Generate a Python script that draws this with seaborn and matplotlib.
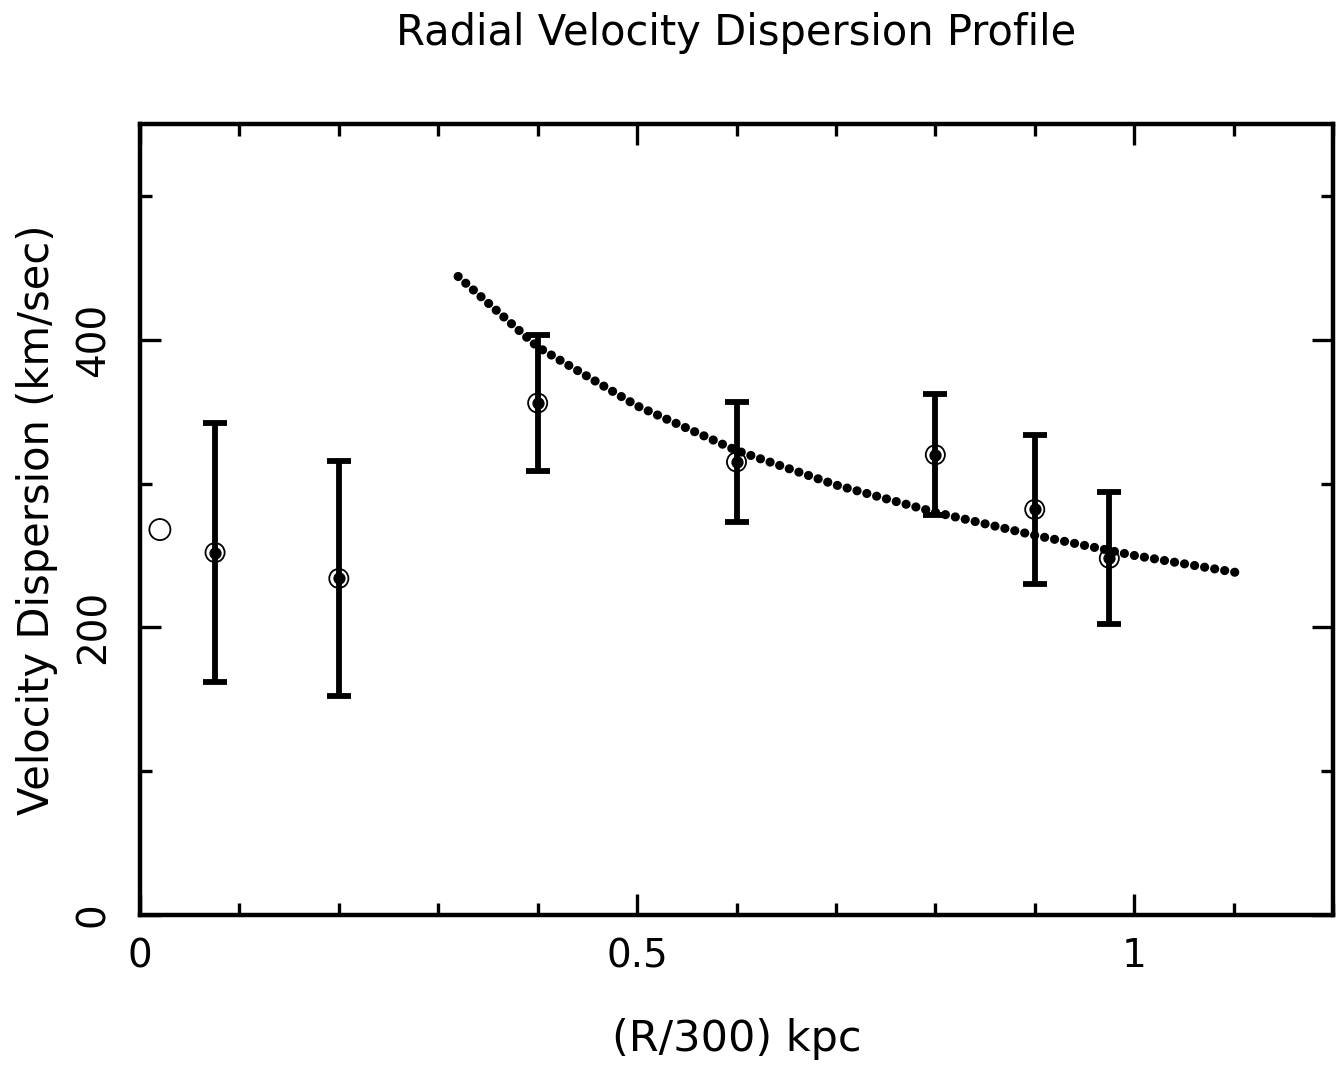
import numpy as np
import pandas as pd
import seaborn as sns
import matplotlib.pyplot as plt
from matplotlib.ticker import MultipleLocator

# measured dispersions with errors
radius = [0.0755, 0.2, 0.4, 0.6, 0.8, 0.9, 0.975]
sigma = [252, 234, 356, 315, 320, 282, 248]
sigma_err = [90, 82, 47, 42, 42, 52, 46]

# central point (no error bar)
r_center = [0.02]
sigma_center = [268]

# model curve
curve_r = [0.32, 0.4, 0.5, 0.6, 0.7, 0.8, 0.9, 1.0, 1.104]
curve_sigma = [444, 395, 354, 323, 299, 280, 264, 250, 238]

sns.set_style("ticks")
plt.rcParams["font.family"] = ["DejaVu Sans"]
plt.rcParams["text.color"] = "black"
plt.rcParams["axes.labelcolor"] = "black"

fig = plt.figure(figsize=(13.43, 10.66), dpi=100)
ax = fig.add_axes([140 / 1343, 1 - 915 / 1066, 1193 / 1343, 791 / 1066])

df = pd.DataFrame({"r": radius, "sigma": sigma, "err": sigma_err})
curve = pd.DataFrame({"r": curve_r, "sigma": curve_sigma})

# dotted model curve
sns.lineplot(data=curve, x="r", y="sigma", ax=ax, color="black", linewidth=6.6,
             linestyle=(0, (0.01, 1.1)), dash_capstyle="round", zorder=2)

# error bars
ax.errorbar(df["r"], df["sigma"], yerr=df["err"], fmt="none", ecolor="black",
            elinewidth=4.2, capsize=8.5, capthick=4.2, zorder=3)

# circles around filled dots
sns.scatterplot(data=df, x="r", y="sigma", ax=ax, s=190, facecolor="none",
                edgecolor="black", linewidth=1.3, zorder=4)
sns.scatterplot(data=df, x="r", y="sigma", ax=ax, s=78, color="black",
                edgecolor="black", linewidth=0, zorder=5)
sns.scatterplot(x=r_center, y=sigma_center, ax=ax, s=230, facecolor="none",
                edgecolor="black", linewidth=1.3, zorder=4)

ax.set_xlim(0, 1.2)
ax.set_ylim(0, 550)
ax.xaxis.set_minor_locator(MultipleLocator(0.1))
ax.yaxis.set_minor_locator(MultipleLocator(100))
ax.set_xticks([0, 0.5, 1])
ax.set_xticklabels(["0", "0.5", "1"])
ax.set_yticks([0, 200, 400])
ax.set_yticklabels(["0", "200", "400"], rotation=90, va="center")

for s in ax.spines.values():
    s.set_linewidth(3.2)
    s.set_color("black")
ax.tick_params(which="both", direction="in", top=True, right=True,
               width=2.4, colors="black", labelsize=28)
ax.tick_params(which="major", length=15)
ax.tick_params(which="minor", length=8.6)
ax.tick_params(axis="x", pad=16)
ax.tick_params(axis="y", pad=20)

ax.set_xlabel("(R/300) kpc", fontsize=31)
ax.set_ylabel("Velocity Dispersion (km/sec)", fontsize=30)
ax.xaxis.set_label_coords(0.5, -0.13)
ax.yaxis.set_label_coords(-0.069, 0.5)
ax.set_title("Radial Velocity Dispersion Profile", fontsize=30, pad=57)

fig.savefig("out.png", dpi=100)
